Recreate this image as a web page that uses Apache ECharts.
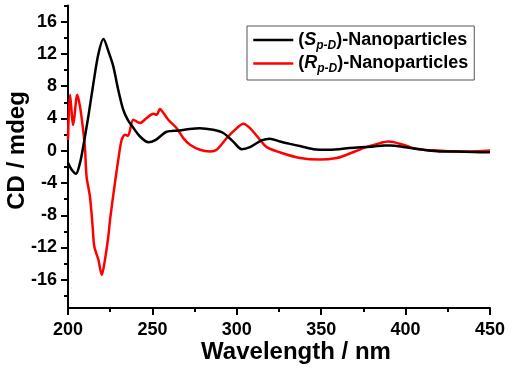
<!DOCTYPE html>
<html lang="en">
<head>
  <meta charset="UTF-8">
  <title>CD spectra</title>
  <script src="https://cdn.jsdelivr.net/npm/echarts@6/dist/echarts.min.js"></script>
  <style>
    html, body { margin: 0; padding: 0; background: #fff; }
    #container { width: 513px; height: 370px; }
  </style>
</head>
<body>
  <div id="container"></div>
  <script>
    // wavelength (nm) / CD (mdeg)
    const spWave = [200, 202, 204.7, 207, 209, 212, 215, 218, 221, 224, 226.8, 229.5, 232.7, 235.5, 238.7, 242.5, 247.6, 252, 258.5, 266, 272, 278, 286, 292, 298, 302.9, 307.8, 314.7, 319.5, 325.6, 331.5, 338, 345.3, 355, 367, 381, 387, 391, 397, 404, 410.5, 420, 430, 440, 450];
    const spCD = [-1.5, -2.3, -2.85, -1.6, 0.5, 4.2, 8.3, 12, 13.85, 12.3, 10.5, 7.8, 5.1, 3.8, 2.85, 1.8, 1.05, 1.35, 2.35, 2.5, 2.7, 2.8, 2.6, 2.2, 1.1, 0.2, 0.45, 1.28, 1.5, 1.15, 0.85, 0.55, 0.2, 0.12, 0.33, 0.53, 0.66, 0.65, 0.53, 0.3, 0.12, -0.08, -0.1, -0.15, -0.2];

    const rpWave = [200, 201.2, 203.1, 205.5, 207.1, 208.6, 210, 211, 213, 214.6, 215.6, 218, 220, 221.9, 223.9, 224.9, 227.8, 229.8, 231.8, 233.8, 235.5, 238.7, 242.6, 246.6, 250.5, 252.5, 254.5, 256.5, 259.4, 264.4, 268.3, 272.3, 278.2, 284.1, 288.1, 294, 300, 303.9, 307.8, 313.7, 317.7, 325.6, 337.4, 349.3, 359.2, 365.1, 375, 384.8, 389.8, 398.6, 406.6, 416, 425, 436.7, 450];
    const rpCD = [1.35, 6.95, 3.2, 6.95, 5.5, 3.2, 0.53, -3.2, -5.67, -9.4, -11.9, -13.5, -15.4, -13.5, -10.6, -8.56, -4.0, -1.1, 1.37, 1.99, 1.86, 3.85, 3.44, 4.06, 4.6, 4.47, 5.17, 4.68, 3.85, 2.8, 1.57, 0.75, 0.12, -0.08, 0.12, 1.57, 2.8, 3.35, 2.8, 1.37, 0.45, -0.2, -0.9, -1.1, -0.9, -0.5, 0.33, 0.95, 1.15, 0.75, 0.2, 0.05, -0.05, -0.08, 0.04];

    const yLabels = [-16, -12, -8, -4, 0, 4, 8, 12, 16];
    const yMinor = [-18, -14, -10, -6, -2, 2, 6, 10, 14, 18];

    const toPairs = (xs, ys) => xs.map((x, i) => [x, ys[i]]);

    const font = 'Liberation Sans, Arial, sans-serif';
    const axisLine = { show: true, onZero: false, lineStyle: { color: '#000', width: 2 } };

    const chart = echarts.init(document.getElementById('container'), null, { renderer: 'canvas' });

    const option = {
      backgroundColor: '#fff',
      animation: false,
      grid: { left: 68, right: 23, top: 5.6, bottom: 62 },
      legend: {
        left: 247,
        top: 26,
        orient: 'vertical',
        padding: [5, 6, 5, 5],
        itemGap: 3,
        itemWidth: 40,
        itemHeight: 20,
        borderColor: '#555',
        borderWidth: 1,
        itemStyle: { opacity: 0 },
        lineStyle: { width: 2.5 },
        data: ['Sp', 'Rp'],
        formatter: (name) => name === 'Sp'
          ? '{a|(}{i|S}{s|p-D}{a|)-Nanoparticles}'
          : '{a|(}{i|R}{s|p-D}{a|)-Nanoparticles}',
        textStyle: {
          fontFamily: font,
          fontWeight: 'bold',
          fontSize: 18,
          color: '#000',
          rich: {
            a: { fontFamily: font, fontWeight: 'bold', fontSize: 18, color: '#000', lineHeight: 23, verticalAlign: 'middle' },
            i: { fontFamily: font, fontWeight: 'bold', fontStyle: 'italic', fontSize: 18, color: '#000', lineHeight: 23, verticalAlign: 'middle' },
            s: { fontFamily: font, fontWeight: 'bold', fontStyle: 'italic', fontSize: 12, color: '#000', lineHeight: 23, verticalAlign: 'bottom' }
          }
        }
      },
      xAxis: {
        type: 'value',
        min: 200,
        max: 450,
        interval: 50,
        axisLine: axisLine,
        axisTick: { show: true, inside: false, length: 7, lineStyle: { color: '#000', width: 2 } },
        minorTick: { show: true, splitNumber: 2, length: 4, lineStyle: { color: '#000', width: 2 } },
        splitLine: { show: false },
        axisLabel: { fontFamily: font, fontWeight: 'bold', fontSize: 18, color: '#000', margin: 13 }
      },
      yAxis: [
        {
          type: 'value',
          min: -19.5,
          max: 18,
          axisLine: axisLine,
          axisTick: { show: true, inside: false, length: 7, customValues: yLabels, lineStyle: { color: '#000', width: 2 } },
          splitLine: { show: false },
          axisLabel: { customValues: yLabels, fontFamily: font, fontWeight: 'bold', fontSize: 18, color: '#000', margin: 11 }
        },
        {
          type: 'value',
          position: 'left',
          min: -19.5,
          max: 18,
          axisLine: { show: false, onZero: false },
          axisTick: { show: true, inside: false, length: 4, customValues: yMinor, lineStyle: { color: '#000', width: 2 } },
          splitLine: { show: false },
          axisLabel: { show: false }
        }
      ],
      series: [
        {
          name: 'Sp',
          type: 'line',
          symbol: 'none',
          smooth: 0.3,
          data: toPairs(spWave, spCD),
          lineStyle: { color: '#000', width: 2.5 },
          itemStyle: { color: '#000' },
          z: 3
        },
        {
          name: 'Rp',
          type: 'line',
          symbol: 'none',
          smooth: 0.3,
          data: toPairs(rpWave, rpCD),
          lineStyle: { color: '#ff0000', width: 2.5 },
          itemStyle: { color: '#ff0000' },
          z: 2
        }
      ],
      graphic: [
        {
          type: 'text',
          x: 296,
          y: 352,
          style: {
            text: 'Wavelength / nm',
            font: 'bold 24px ' + font,
            fill: '#000',
            align: 'center',
            verticalAlign: 'middle'
          }
        },
        {
          type: 'text',
          x: 17,
          y: 150.5,
          rotation: Math.PI / 2,
          style: {
            text: 'CD / mdeg',
            font: 'bold 24px ' + font,
            fill: '#000',
            align: 'center',
            verticalAlign: 'middle'
          }
        }
      ]
    };

    chart.setOption(option);
  </script>
</body>
</html>
